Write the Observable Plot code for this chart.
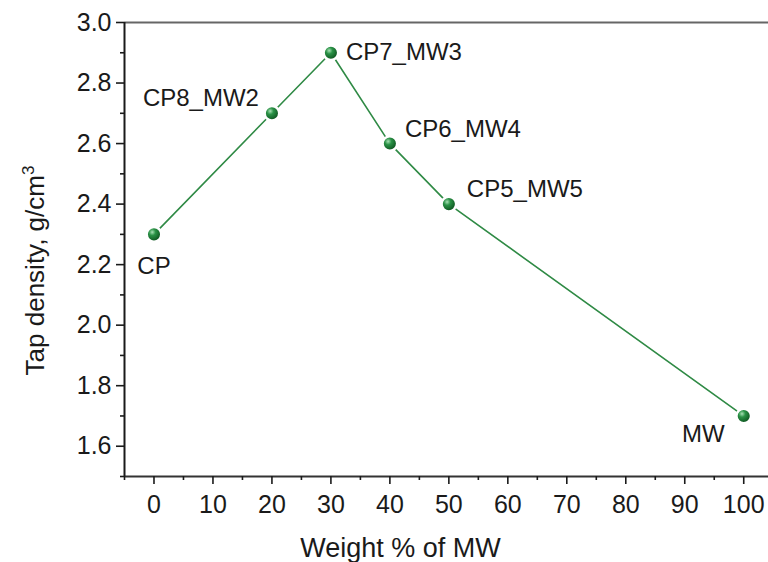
<!DOCTYPE html>
<html>
<head>
<meta charset="utf-8">
<script src="https://cdn.jsdelivr.net/npm/d3@7"></script>
<script src="https://cdn.jsdelivr.net/npm/@observablehq/plot@0.6"></script>
<style>
  html, body { margin: 0; padding: 0; background: #fff; }
  #chart svg { display: block; }
</style>
</head>
<body>
<div id="chart"></div>
<script>
// ---- data ----
const sampleNames = ["CP", "CP8_MW2", "CP7_MW3", "CP6_MW4", "CP5_MW5", "MW"];
const weightPct   = [0, 20, 30, 40, 50, 100];
const tapDensity  = [2.3, 2.7, 2.9, 2.6, 2.4, 1.7];

const xTicks = [0, 10, 20, 30, 40, 50, 60, 70, 80, 90, 100];
const xMinorTicks = [-5, 5, 15, 25, 35, 45, 55, 65, 75, 85, 95];
const yTicks = [1.6, 1.8, 2.0, 2.2, 2.4, 2.6, 2.8, 3.0];
const yMinorTicks = [1.5, 1.7, 1.9, 2.1, 2.3, 2.5, 2.7, 2.9];
const xDomain = [-5, 104.2];
const yDomain = [1.5, 3.0];

const xTitle = "Weight % of MW";
const yTitle = "Tap density, g/cm";
const yTitleSup = "3";

// ---- layout / style (not data) ----
const FONT = "'Liberation Sans', Arial, sans-serif";
const labelLayout = {
  "CP":      {dx: 0,   dy: 32,  anchor: "middle"},
  "CP8_MW2": {dx: -13, dy: -15, anchor: "end"},
  "CP7_MW3": {dx: 15,  dy: 0,   anchor: "start"},
  "CP6_MW4": {dx: 15,  dy: -14, anchor: "start"},
  "CP5_MW5": {dx: 18,  dy: -15, anchor: "start"},
  "MW":      {dx: -19, dy: 18,  anchor: "end"}
};

const rows = sampleNames.map((name, i) => ({name, x: weightPct[i], y: tapDensity[i]}));

const labelMarks = rows.map(r => {
  const L = labelLayout[r.name];
  return Plot.text([r], {
    x: "x", y: "y", text: "name",
    dx: L.dx, dy: L.dy, textAnchor: L.anchor,
    fontSize: 24, fill: "#1a1a1a", lineAnchor: "middle"
  });
});

const chart = Plot.plot({
  width: 768,
  height: 562,
  marginLeft: 124,
  marginRight: 0,
  marginTop: 22,
  marginBottom: 86,
  style: {fontFamily: FONT, background: "#fff", color: "#1a1a1a", overflow: "visible"},
  x: {domain: xDomain, axis: null},
  y: {domain: yDomain, axis: null},
  marks: [
    // frame lines
    Plot.ruleY([yDomain[1]], {stroke: "#666", strokeWidth: 2}),
    Plot.ruleY([yDomain[0]], {stroke: "#333", strokeWidth: 2}),
    Plot.ruleX([xDomain[0]], {stroke: "#1a1a1a", strokeWidth: 2}),
    // axes
    Plot.axisX(xTicks, {anchor: "bottom", tickSize: 8, tickPadding: 11, fontSize: 25, strokeWidth: 1.6, label: null}),
    Plot.axisX(xMinorTicks, {anchor: "bottom", tickSize: 4, tickFormat: () => "", strokeWidth: 1.6, label: null}),
    Plot.axisY(yTicks, {anchor: "left", tickSize: 8, tickPadding: 5, fontSize: 25, strokeWidth: 1.6, tickFormat: d3.format(".1f"), label: null}),
    Plot.axisY(yMinorTicks, {anchor: "left", tickSize: 4, tickFormat: () => "", strokeWidth: 1.6, label: null}),
    // axis titles
    Plot.text([xTitle], {frameAnchor: "bottom", textAnchor: "middle", dx: -46, dy: 72, lineAnchor: "middle", fontSize: 27, fill: "#1a1a1a"}),
    Plot.text([yTitle], {frameAnchor: "left", textAnchor: "middle", dx: -89, dy: 21, rotate: -90, lineAnchor: "middle", fontSize: 26, fill: "#1a1a1a"}),
    // data
    Plot.line(rows, {x: "x", y: "y", stroke: "#2f8a45", strokeWidth: 1.6}),
    Plot.dot(rows, {x: "x", y: "y", r: 7.3, fill: "url(#sphere)", stroke: "#fff", strokeWidth: 2.5}),
    ...labelMarks
  ]
});

// sphere gradient for markers
const svg = d3.select(chart);
const defs = svg.insert("defs", ":first-child");
const grad = defs.append("radialGradient").attr("id", "sphere")
  .attr("cx", "0.38").attr("cy", "0.35").attr("r", "0.65");
grad.append("stop").attr("offset", "0%").attr("stop-color", "#a8e0b4");
grad.append("stop").attr("offset", "35%").attr("stop-color", "#2a9246");
grad.append("stop").attr("offset", "100%").attr("stop-color", "#0b4f1c");

// superscript on y title
svg.selectAll("text").filter(function() { return this.textContent === yTitle; })
  .each(function() {
    const t = d3.select(this);
    t.text(null);
    t.append("tspan").text(yTitle);
    t.append("tspan").attr("dy", "-0.55em").attr("font-size", "17").text(yTitleSup);
  });

document.getElementById("chart").appendChild(chart);
</script>
</body>
</html>
